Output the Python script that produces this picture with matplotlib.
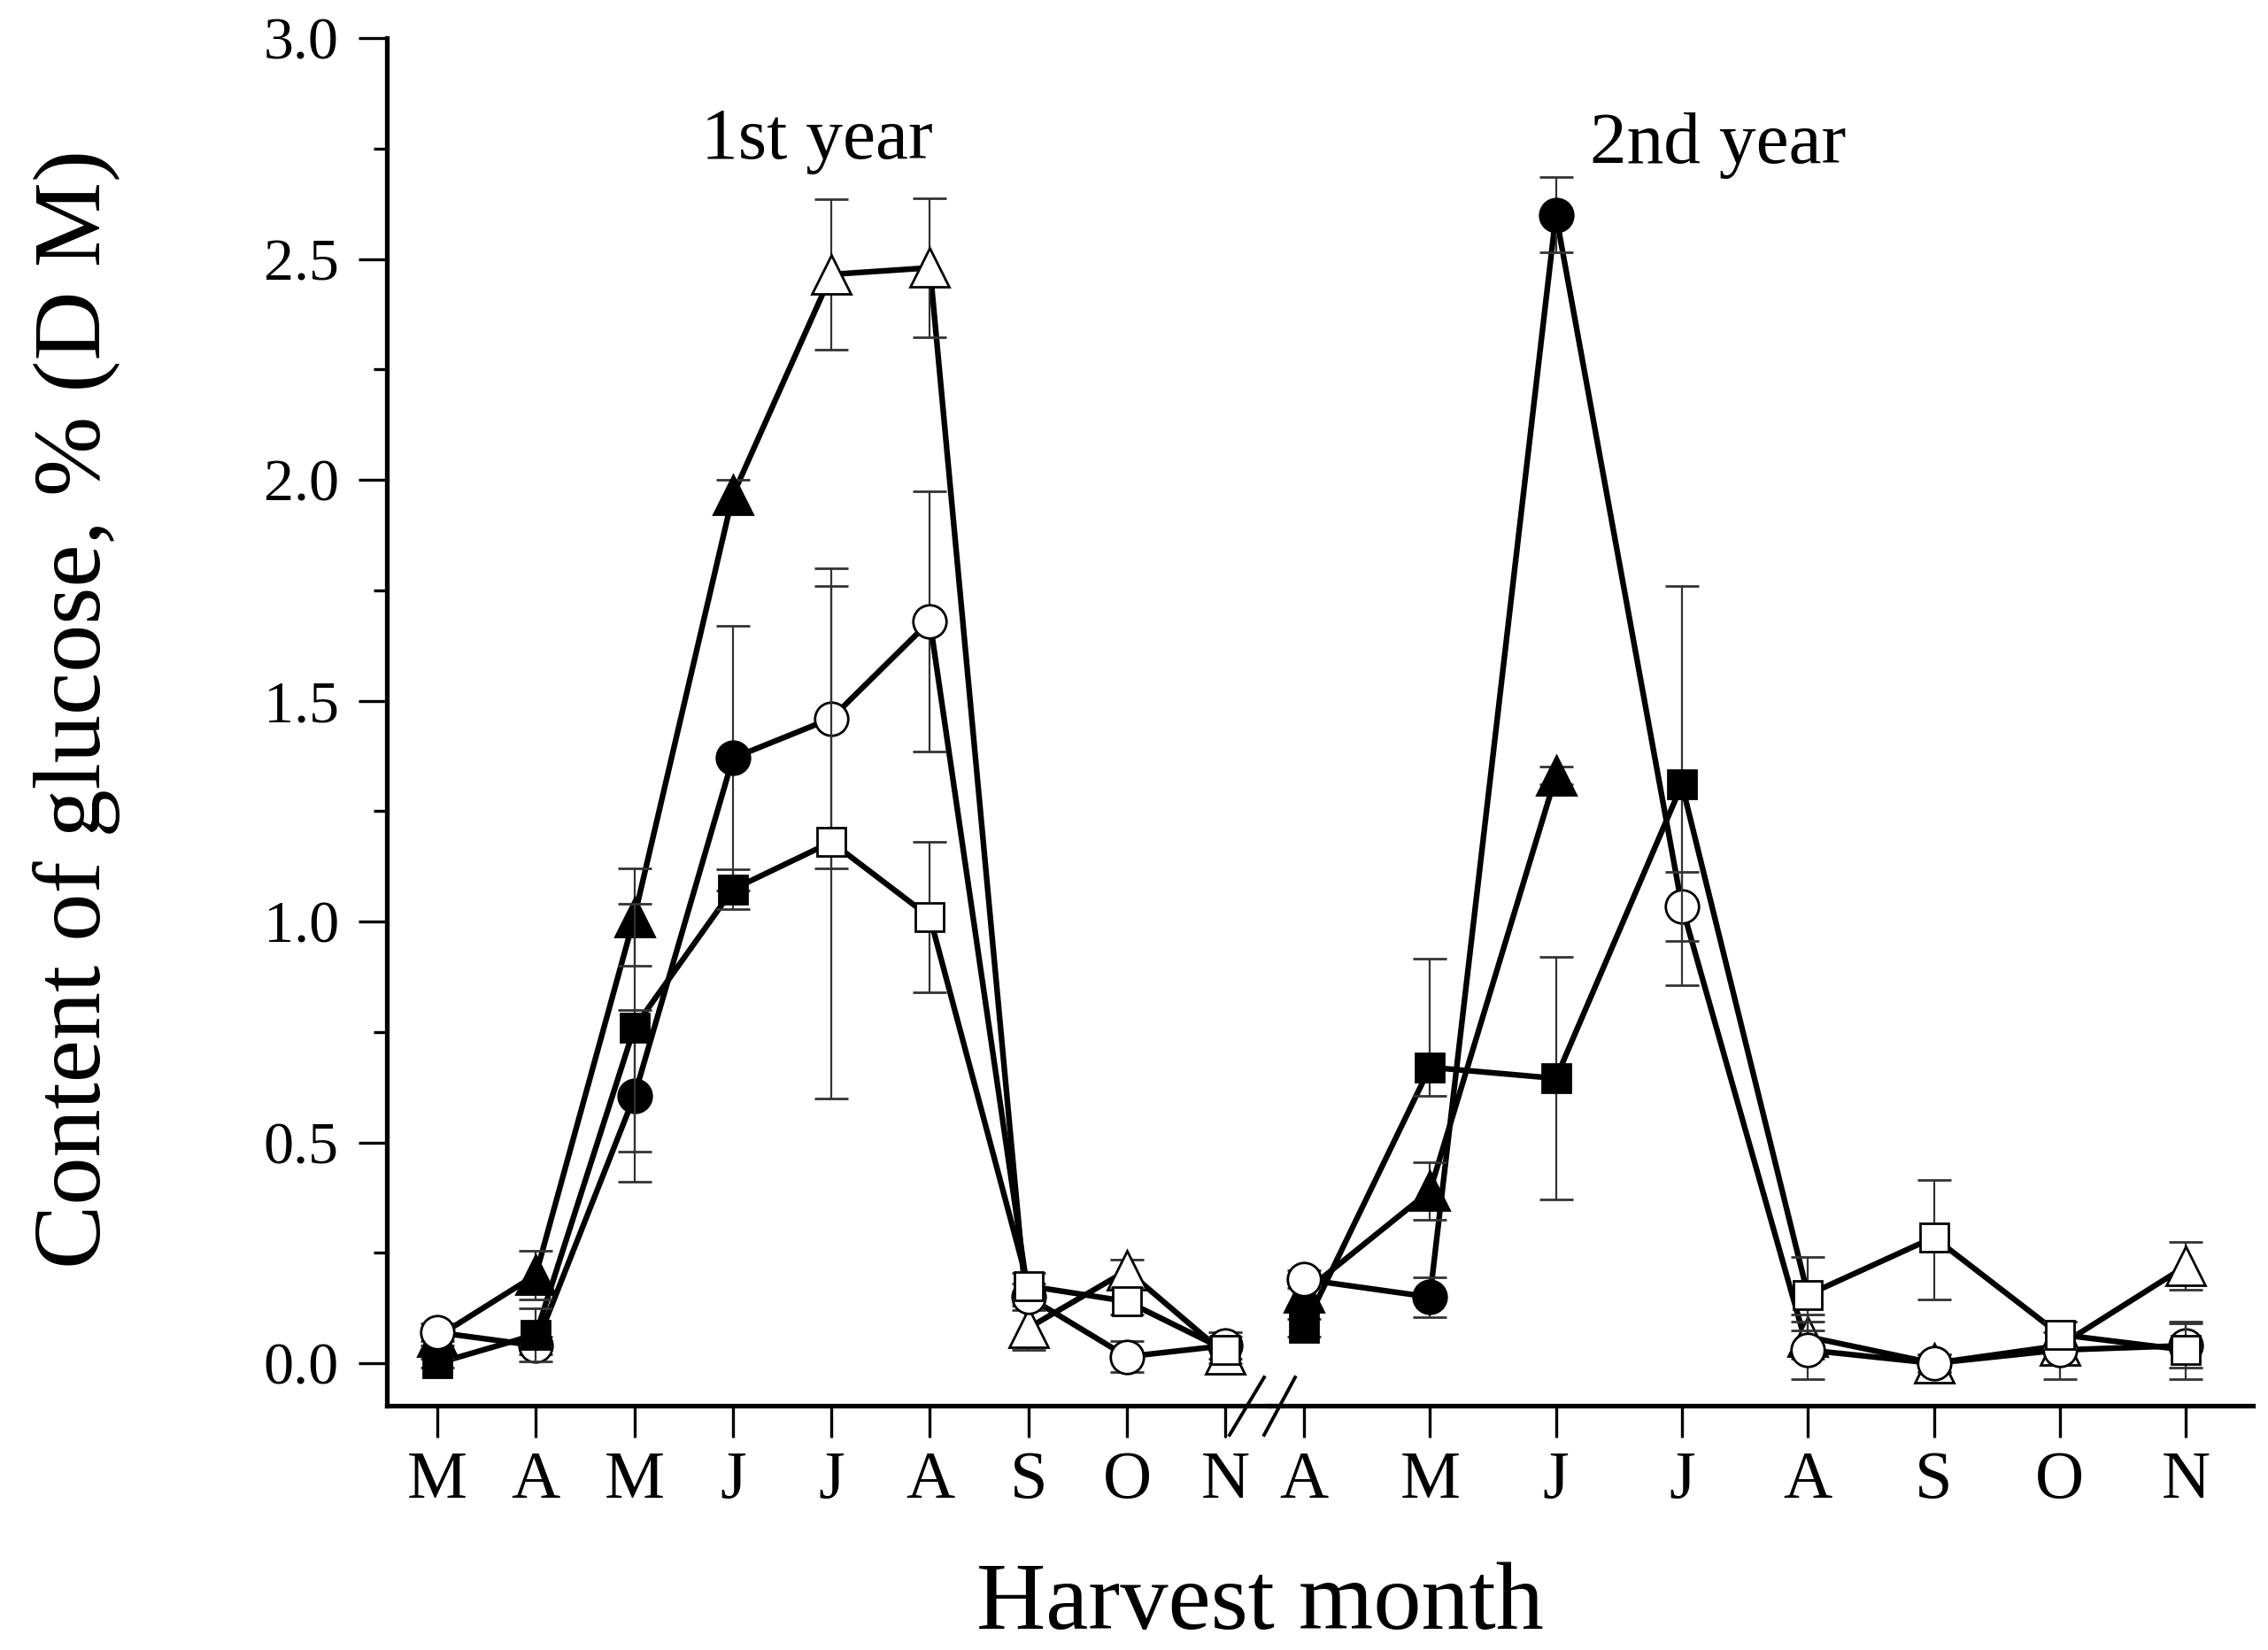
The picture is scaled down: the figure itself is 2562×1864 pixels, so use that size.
import numpy as np
import matplotlib
matplotlib.use("Agg")
import matplotlib.pyplot as plt
from matplotlib.lines import Line2D

plt.rcParams["font.family"] = ["Liberation Serif", "DejaVu Serif"]

# month labels of the two harvest years
months_y1 = ["M", "A", "M", "J", "J", "A", "S", "O", "N"]
months_y2 = ["A", "M", "J", "J", "A", "S", "O", "N"]

# square series
sq_y1 = [0.0, 0.065, 0.76, 1.073, 1.18, 1.01, 0.175, 0.14, 0.03]
sq_y1_err = [0.01, 0.06, 0.28, 0.045, 0.58, 0.17, 0.03, 0.03, 0.03]
sq_y1_filled = [1, 1, 1, 1, 0, 0, 0, 0, 0]
sq_y2 = [0.08, 0.67, 0.645, 1.31, 0.155, 0.285, 0.065, 0.03]
sq_y2_err_lo = [0.02, 0.065, 0.275, 0.455, 0.08, 0.14, 0.03, 0.065]
sq_y2_err_hi = [0.02, 0.245, 0.275, 0.45, 0.085, 0.13, 0.03, 0.065]
sq_y2_filled = [1, 1, 1, 1, 0, 0, 0, 0]

# circle series
ci_y1 = [0.07, 0.04, 0.605, 1.37, 1.46, 1.68, 0.15, 0.015, 0.04]
ci_y1_err = [0.02, 0.02, 0.195, 0.30, 0.34, 0.295, 0.03, 0.035, 0.03]
ci_y1_filled = [0, 0, 1, 1, 0, 0, 0, 0, 0]
ci_y2 = [0.19, 0.15, 2.6, 1.035, 0.03, 0.0, 0.03, 0.04]
ci_y2_err = [0.02, 0.045, 0.085, 0.078, 0.065, 0.02, 0.065, 0.05]
ci_y2_filled = [0, 1, 1, 0, 0, 0, 0, 0]

# triangle series (no July value in year 2)
tr_y1 = [0.06, 0.20, 1.01, 1.965, 2.465, 2.48, 0.08, 0.21, 0.02]
tr_y1_err = [0.02, 0.055, 0.11, 0.035, 0.17, 0.157, 0.05, 0.025, 0.03]
tr_y1_filled = [1, 1, 1, 1, 0, 0, 0, 0, 0]
tr_y2 = [0.16, 0.39, 1.33, np.nan, 0.06, 0.0, 0.04, 0.22]
tr_y2_err = [0.03, 0.065, 0.02, np.nan, 0.05, 0.02, 0.03, 0.054]
tr_y2_filled = [1, 1, 1, 0, 0, 0, 0, 0]

W, H = 2562, 1864
fig = plt.figure(figsize=(W / 100, H / 100), dpi=100)

ax_left, ax_break, ax_right = 437, 1434, 2545
ax_bottom, ax_top = 1588, 43
ax1 = fig.add_axes([ax_left / W, 1 - ax_bottom / H, (ax_break - ax_left) / W, (ax_bottom - ax_top) / H])
ax2 = fig.add_axes([ax_break / W, 1 - ax_bottom / H, (ax_right - ax_break) / W, (ax_bottom - ax_top) / H])

err_color = "#333333"
line_kw = dict(color="black", lw=4.6, solid_capstyle="butt")


def draw_series(ax, y, err, filled, marker, ms, z):
    x = np.arange(len(y))
    y = np.asarray(y, dtype=float)
    filled = np.asarray(filled, dtype=bool)
    ax.plot(x, y, zorder=2, **line_kw)
    ax.errorbar(x, y, yerr=err, fmt="none", ecolor=err_color, elinewidth=1.6,
                capsize=14, capthick=2.0, zorder=z)
    ax.plot(x[filled], y[filled], ls="none", marker=marker, ms=ms, mfc="black",
            mec="black", mew=2.0, zorder=z + 0.5)
    ax.plot(x[~filled], y[~filled], ls="none", marker=marker, ms=ms, mfc="white",
            mec="black", mew=2.0, zorder=z + 0.5)


draw_series(ax1, tr_y1, tr_y1_err, tr_y1_filled, "^", 31, 3)
draw_series(ax1, ci_y1, ci_y1_err, ci_y1_filled, "o", 27, 4)
draw_series(ax1, sq_y1, sq_y1_err, sq_y1_filled, "s", 23, 5)

draw_series(ax2, tr_y2, tr_y2_err, tr_y2_filled, "^", 31, 3)
draw_series(ax2, ci_y2, ci_y2_err, ci_y2_filled, "o", 27, 4)
draw_series(ax2, sq_y2, [sq_y2_err_lo, sq_y2_err_hi], sq_y2_filled, "s", 23, 5)

ylim = (-0.096, 3.0)
ax1.set_xlim(-0.512, 8.446)
ax2.set_xlim(-0.274, 7.533)
for ax in (ax1, ax2):
    ax.set_ylim(*ylim)
    ax.spines["top"].set_visible(False)
    ax.spines["right"].set_visible(False)
    ax.spines["bottom"].set_linewidth(3.8)
    ax.patch.set_alpha(0)
    ax.tick_params(axis="x", direction="out", length=26, width=2.4, pad=11,
                   labelsize=55)

ax1.spines["left"].set_linewidth(3.8)
ax2.spines["left"].set_visible(False)
ax2.tick_params(axis="y", left=False, labelleft=False)

ax1.set_xticks(np.arange(len(months_y1)))
ax1.set_xticklabels(months_y1)
ax2.set_xticks(np.arange(len(months_y2)))
ax2.set_xticklabels(months_y2)

ax1.set_yticks(np.arange(0, 3.01, 0.5))
ax1.set_yticks(np.arange(0.25, 3.0, 0.5), minor=True)
ax1.set_yticklabels([f"{v:.1f}" for v in np.arange(0, 3.01, 0.5)])
ax1.tick_params(axis="y", which="major", direction="out", length=23, width=2.4,
                pad=16, labelsize=49)
ax1.tick_params(axis="y", which="minor", direction="out", length=11, width=2.4)

ax1.text(3.85, 2.728, "1st year", fontsize=60, ha="center", va="baseline")
ax2.text(3.29, 2.718, "2nd year", fontsize=60, ha="center", va="baseline")

fig.text(86 / W, 1 - 801 / H, "Content of glucose, % (D M)", rotation=90,
         fontsize=78, ha="center", va="center")
fig.text(1423 / W, 1 - 1840 / H, "Harvest month", fontsize=78,
         ha="center", va="baseline")

# axis break marks
for x_top, x_bot in [(1428, 1389), (1463, 1428)]:
    fig.add_artist(Line2D([x_top / W, x_bot / W], [1 - 1556 / H, 1 - 1621 / H],
                          color="black", lw=2.8, transform=fig.transFigure))

fig.savefig("out.png", dpi=100, facecolor="white")
